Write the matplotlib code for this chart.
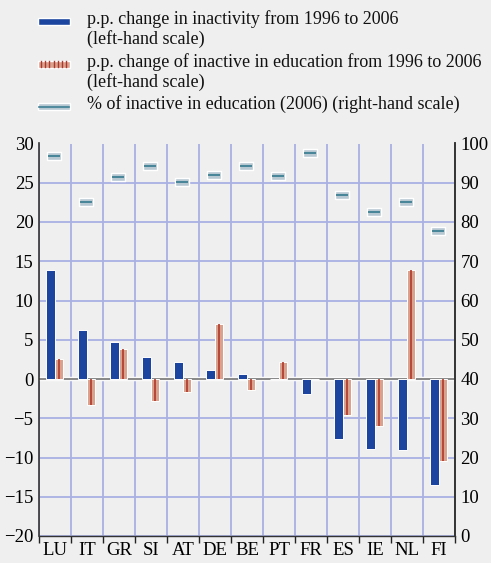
import matplotlib
matplotlib.use("Agg")
import matplotlib.pyplot as plt
import numpy as np
from matplotlib.path import Path
from matplotlib.patches import Rectangle
from matplotlib.ticker import MultipleLocator, FixedLocator

countries = ["LU", "IT", "GR", "SI", "AT", "DE", "BE", "PT", "FR", "ES", "IE", "NL", "FI"]
inactivity_change = [13.9, 6.2, 4.7, 2.8, 2.2, 1.2, 0.6, 0.0, -1.9, -7.6, -8.9, -9.1, -13.5]
education_change = [2.5, -3.3, 3.8, -2.8, -1.7, 7.0, -1.4, 2.2, 0.0, -4.6, -6.0, 13.9, -10.5]
pct_in_education = [96.8, 85.1, 91.5, 94.3, 90.1, 92.0, 94.3, 91.8, 97.6, 87.0, 82.5, 85.1, 77.7]

legend_labels = [
    "p.p. change in inactivity from 1996 to 2006\n(left-hand scale)",
    "p.p. change of inactive in education from 1996 to 2006\n(left-hand scale)",
    "% of inactive in education (2006) (right-hand scale)",
]

BG = "#efefef"
BLUE = "#1b459e"
SALMON = "#d9a28f"
DARKRED = "#b0382a"
BOXFILL = "#b7c8d3"
TEAL = "#3f7f94"
GRID = "#a9b0e2"
SERIF = ["Liberation Serif", "DejaVu Serif"]

plt.rcParams["font.family"] = SERIF

W, H = 491, 563
fig = plt.figure(figsize=(W / 100, H / 100), dpi=100, facecolor=BG)
ax = fig.add_axes([39 / W, 1 - 536 / H, (455 - 39) / W, (536 - 143.5) / H])
ax.set_facecolor(BG)

x = np.arange(len(countries))
bw = 0.28
xb = x - 0.155
xr = x + 0.125

ax.bar(xb, inactivity_change, width=bw, color=BLUE, edgecolor="white", linewidth=0.7, zorder=3)
ax.bar(xr, education_change, width=bw, color=SALMON, edgecolor="white", linewidth=0.7, zorder=3)
ax.vlines(xr, 0, education_change, color=DARKRED, linewidth=1.2, zorder=4)

ax.set_xlim(-0.5, len(countries) - 0.5)
ax.set_ylim(-20, 30)
ax.yaxis.set_major_locator(MultipleLocator(5))
ax.set_xticks(x)
ax.set_xticklabels(countries, fontsize=13.5)
ax.xaxis.set_minor_locator(FixedLocator(np.arange(-0.5, len(countries), 1.0)))
ax.tick_params(axis="x", which="major", length=0, pad=4)
ax.tick_params(axis="x", which="minor", length=5, width=1, color="#222222", direction="out")
ax.tick_params(axis="y", length=0, labelsize=13.5, pad=4)

ax.grid(True, axis="y", which="major", color=GRID, linewidth=1.3, zorder=0)
ax.grid(True, axis="x", which="minor", color=GRID, linewidth=1.3, zorder=0)
ax.set_axisbelow(True)

ax.spines["top"].set_visible(False)
ax.spines["left"].set_color("#333333")
ax.spines["left"].set_linewidth(1.2)
ax.spines["right"].set_color("#333333")
ax.spines["right"].set_linewidth(1.2)
ax.spines["bottom"].set_color("#333333")
ax.spines["bottom"].set_linewidth(1.0)

ax.axhline(0, color="white", linewidth=3.2, zorder=2)
ax.axhline(0, color="#8a8a8a", linewidth=1.5, zorder=2.5)

ax2 = ax.twinx()
ax2.set_ylim(0, 100)
ax2.yaxis.set_major_locator(MultipleLocator(10))
ax2.tick_params(axis="y", length=0, labelsize=13.5, pad=4)
for s in ["top", "left", "bottom"]:
    ax2.spines[s].set_visible(False)
ax2.spines["right"].set_color("#333333")
ax2.spines["right"].set_linewidth(1.2)

box = Path([(-1, -0.6), (1, -0.6), (1, 0.6), (-1, 0.6), (-1, -0.6)],
           [Path.MOVETO, Path.LINETO, Path.LINETO, Path.LINETO, Path.CLOSEPOLY])
xm = x - 0.02
ax2.plot(xm, pct_in_education, linestyle="none", marker=box, markersize=10,
         markerfacecolor=BOXFILL, markeredgecolor="white", markeredgewidth=1.0, zorder=5)
ax2.plot(xm, pct_in_education, linestyle="none", marker="_", markersize=8,
         markeredgecolor=TEAL, markeredgewidth=1.3, zorder=6)

# legend (manual)
hx, hw, hh = 38, 32, 7
ys = [21, 64, 106]
def fx(px):
    return px / W
def fy(py):
    return 1 - py / H

fig.patches.append(Rectangle((fx(hx), fy(ys[0] + hh / 2)), hw / W, hh / H, facecolor=BLUE,
                             edgecolor="white", linewidth=1.0, transform=fig.transFigure, figure=fig))
fig.patches.append(Rectangle((fx(hx), fy(ys[1] + hh / 2)), hw / W, hh / H, facecolor=SALMON,
                             edgecolor="white", linewidth=1.0, transform=fig.transFigure, figure=fig))
for k in range(7):
    sx = hx + 3 + k * 4.2
    fig.lines.append(plt.Line2D([fx(sx), fx(sx)], [fy(ys[1] - hh / 2 + 0.5), fy(ys[1] + hh / 2 - 0.5)],
                                color=DARKRED, linewidth=1.0, transform=fig.transFigure, figure=fig))
fig.patches.append(Rectangle((fx(hx), fy(ys[2] + hh / 2)), hw / W, hh / H, facecolor=BOXFILL,
                             edgecolor="white", linewidth=1.0, transform=fig.transFigure, figure=fig))
fig.lines.append(plt.Line2D([fx(hx + 1), fx(hx + hw - 1)], [fy(ys[2] + 1), fy(ys[2] + 1)],
                            color=TEAL, linewidth=1.2, transform=fig.transFigure, figure=fig))

text_y = [10, 53, 95.5]
for ty, lab in zip(text_y, legend_labels):
    fig.text(fx(87), fy(ty), lab, ha="left", va="top", fontsize=13, linespacing=1.17,
             color="#111111")

fig.savefig("out.png", dpi=100, facecolor=BG)
